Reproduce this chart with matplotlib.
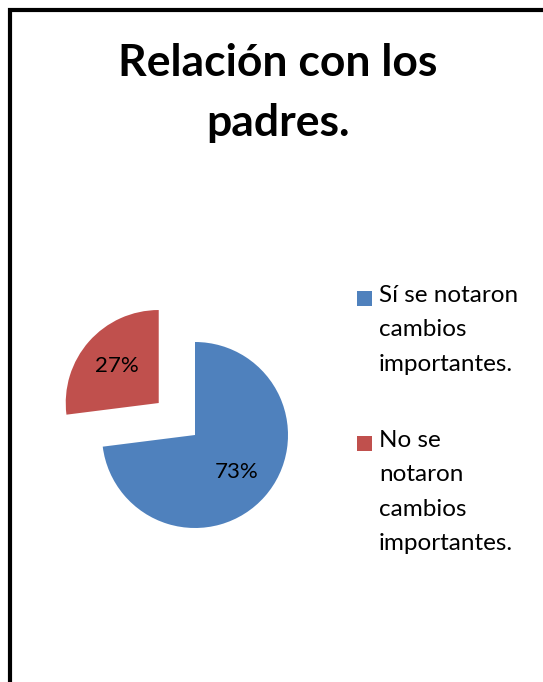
import matplotlib
matplotlib.use("Agg")
import matplotlib.pyplot as plt
from matplotlib.patches import Rectangle

# data
labels = ["Sí se notaron\ncambios\nimportantes.", "No se\nnotaron\ncambios\nimportantes."]
values = [73, 27]
colors = ["#4F81BD", "#C0504D"]
title = "Relación con los\npadres."

W, H = 543, 682
plt.rcParams['font.family'] = ['Lato', 'DejaVu Sans']

fig = plt.figure(figsize=(W / 100, H / 100), dpi=100)

# frame (only top and left edges are inside the picture)
fig.add_artist(Rectangle((10 / W, -0.5), 2.0, 1.5 - 10 / H, transform=fig.transFigure,
                         fill=False, edgecolor="black", linewidth=3.0))

fig.text(278 / W, 1 - 93 / H, title, ha="center", va="center", fontsize=32,
         fontweight="bold", linespacing=1.6)

# pie axes: center (195, 435) px, radius 93 px, limits +-2
r = 93
cx, cy = 195, 435
ax = fig.add_axes([(cx - 2 * r) / W, (H - cy - 2 * r) / H, 4 * r / W, 4 * r / H])
wedges, texts, autotexts = ax.pie(values, colors=colors, startangle=90, counterclock=False,
                                  explode=[0, 0.52], autopct="%d%%", pctdistance=0.6,
                                  textprops={"fontsize": 16})
ax.set_xlim(-2, 2)
ax.set_ylim(-2, 2)
ax.set_aspect("equal")
ax.axis("off")

# legend
entry_y = [298, 443]
for lab, col, y in zip(labels, colors, entry_y):
    fig.add_artist(Rectangle((357 / W, 1 - (y + 8) / H), 15 / W, 15 / H,
                             transform=fig.transFigure, facecolor=col, edgecolor="none"))
    fig.text(379 / W, 1 - (y - 13) / H, lab, ha="left", va="top", fontsize=17.5,
             linespacing=1.78)

fig.savefig("out.png", dpi=100)
